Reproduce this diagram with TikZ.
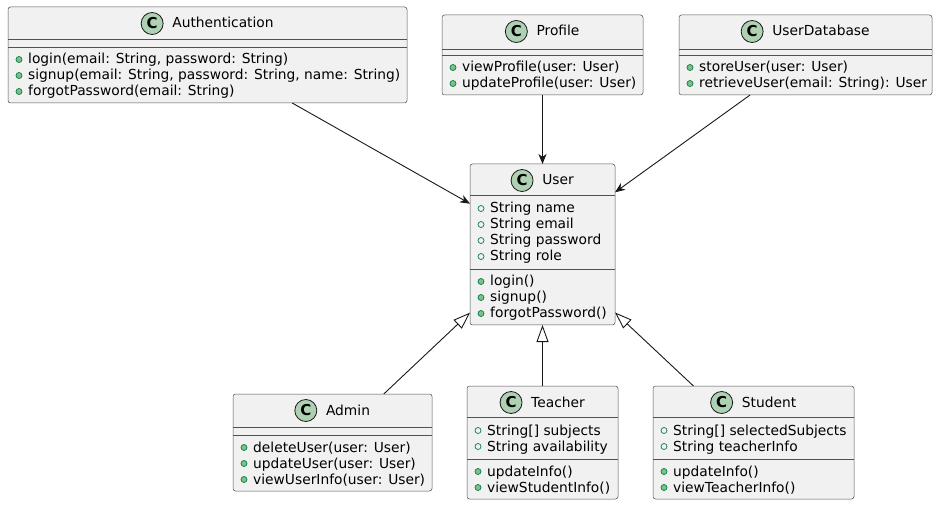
\documentclass[tikz,border=0pt]{standalone}
\usepackage{fontspec}
\setmainfont{DejaVu Sans}
\usetikzlibrary{arrows.meta,calc}
\definecolor{boxfill}{HTML}{F1F1F1}
\definecolor{boxline}{HTML}{181818}
\definecolor{iconfill}{HTML}{ADD1B2}
\definecolor{dotfill}{HTML}{84BE84}
\definecolor{dotline}{HTML}{038048}
\tikzset{
  classbox/.style={draw=boxline!75, fill=boxfill, line width=0.5bp, rounded corners=2.5bp, inner sep=0pt, outer sep=0pt},
  sepline/.style={draw=boxline!75, line width=0.5bp},
  titletext/.style={inner sep=0pt, font=\fontsize{13.8bp}{16bp}\selectfont},
  member/.style={inner sep=0pt, font=\fontsize{13.8bp}{16bp}\selectfont},
  cicon/.style={circle, draw=boxline, fill=iconfill, line width=0.8bp, minimum size=22bp, inner sep=0pt, font=\fontsize{15bp}{15bp}\selectfont\bfseries},
  methdot/.style={fill=dotfill, draw=dotline, line width=0.7bp},
  attrdot/.style={draw=dotline, line width=0.7bp},
  assoc/.style={draw=boxline, line width=0.9bp, -{Stealth[length=10bp, width=8bp, inset=3bp]}},
  generalization/.style={draw=boxline, line width=0.9bp, -{Triangle[open, length=17bp, width=12bp]}}
}
\newcommand\umlclass[6]{%
  \node[classbox, minimum width={(#4-#2)*1bp}, minimum height={(#5-#3)*1bp}] (#1) at ({(#2+#4)/2},{(#3+#5)/2}) {};
  \node[titletext, anchor=base] (#1-t) at ({(#2+#4)/2+15.5},{#3+21}) {#6};
  \coordinate (#1-cx) at ($(#1-t.west)+(-20,0)$);
  \coordinate (#1-cy) at (0,{#3+16.5});
  \node[cicon] (#1-c) at (#1-cx |- #1-cy) {C};
}
\newcommand\umlsep[3]{\draw[sepline] (#1,#3) -- (#2,#3);}
\newcommand\umlmeth[4]{%
  \node[member, anchor=base west] (#1) at ({#2+20},#3) {#4};
  \filldraw[methdot] ({#2+11},{#3-4.5}) circle (3bp);
}
\newcommand\umlattr[4]{%
  \node[member, anchor=base west] (#1) at ({#2+20},#3) {#4};
  \draw[attrdot] ({#2+11},{#3-4.5}) circle (3bp);
}
\begin{document}
\begin{tikzpicture}[x=1bp, y=-1bp]
\useasboundingbox (0,0) rectangle (938,505);

% Authentication
\umlclass{auth}{8}{7}{407}{103}{Authentication}
\umlsep{8}{407}{39}\umlsep{8}{407}{47}
\umlmeth{auth-m1}{8}{64}{login(email: String, password: String)}
\umlmeth{auth-m2}{8}{80}{signup(email: String, password: String, name: String)}
\umlmeth{auth-m3}{8}{96}{forgotPassword(email: String)}

% Profile
\umlclass{prof}{442}{15}{643}{95}{Profile}
\umlsep{442}{643}{49}\umlsep{442}{643}{55}
\umlmeth{prof-m1}{442}{72}{viewProfile(user: User)}
\umlmeth{prof-m2}{442}{88}{updateProfile(user: User)}

% UserDatabase
\umlclass{udb}{679}{15}{932}{95}{UserDatabase}
\umlsep{679}{932}{49}\umlsep{679}{932}{55}
\umlmeth{udb-m1}{679}{72}{storeUser(user: User)}
\umlmeth{udb-m2}{679}{88}{retrieveUser(email: String): User}

% User
\umlclass{user}{470}{164}{615}{325}{User}
\umlsep{470}{615}{195}\umlsep{470}{615}{269}
\umlattr{user-a1}{470}{213}{String name}
\umlattr{user-a2}{470}{229}{String email}
\umlattr{user-a3}{470}{245}{String password}
\umlattr{user-a4}{470}{261}{String role}
\umlmeth{user-m1}{470}{286}{login()}
\umlmeth{user-m2}{470}{302}{signup()}
\umlmeth{user-m3}{470}{318}{forgotPassword()}

% Admin
\umlclass{admin}{233}{394}{432}{491}{Admin}
\umlsep{233}{432}{427}\umlsep{233}{432}{435}
\umlmeth{admin-m1}{233}{452}{deleteUser(user: User)}
\umlmeth{admin-m2}{233}{468}{updateUser(user: User)}
\umlmeth{admin-m3}{233}{484}{viewUserInfo(user: User)}

% Teacher
\umlclass{teach}{467}{386}{618}{499}{Teacher}
\umlsep{467}{618}{417}\umlsep{467}{618}{459}
\umlattr{teach-a1}{467}{435}{String[] subjects}
\umlattr{teach-a2}{467}{451}{String availability}
\umlmeth{teach-m1}{467}{476}{updateInfo()}
\umlmeth{teach-m2}{467}{492}{viewStudentInfo()}

% Student
\umlclass{stud}{653}{386}{854}{499}{Student}
\umlsep{653}{854}{417}\umlsep{653}{854}{459}
\umlattr{stud-a1}{653}{435}{String[] selectedSubjects}
\umlattr{stud-a2}{653}{451}{String teacherInfo}
\umlmeth{stud-m1}{653}{476}{updateInfo()}
\umlmeth{stud-m2}{653}{492}{viewTeacherInfo()}

% connectors
\draw[assoc] (auth) -- (user);
\draw[assoc] (prof) -- (user);
\draw[assoc] (udb) -- (user);
\draw[generalization] (admin) -- (user);
\draw[generalization] (teach) -- (user);
\draw[generalization] (stud) -- (user);
\end{tikzpicture}
\end{document}
